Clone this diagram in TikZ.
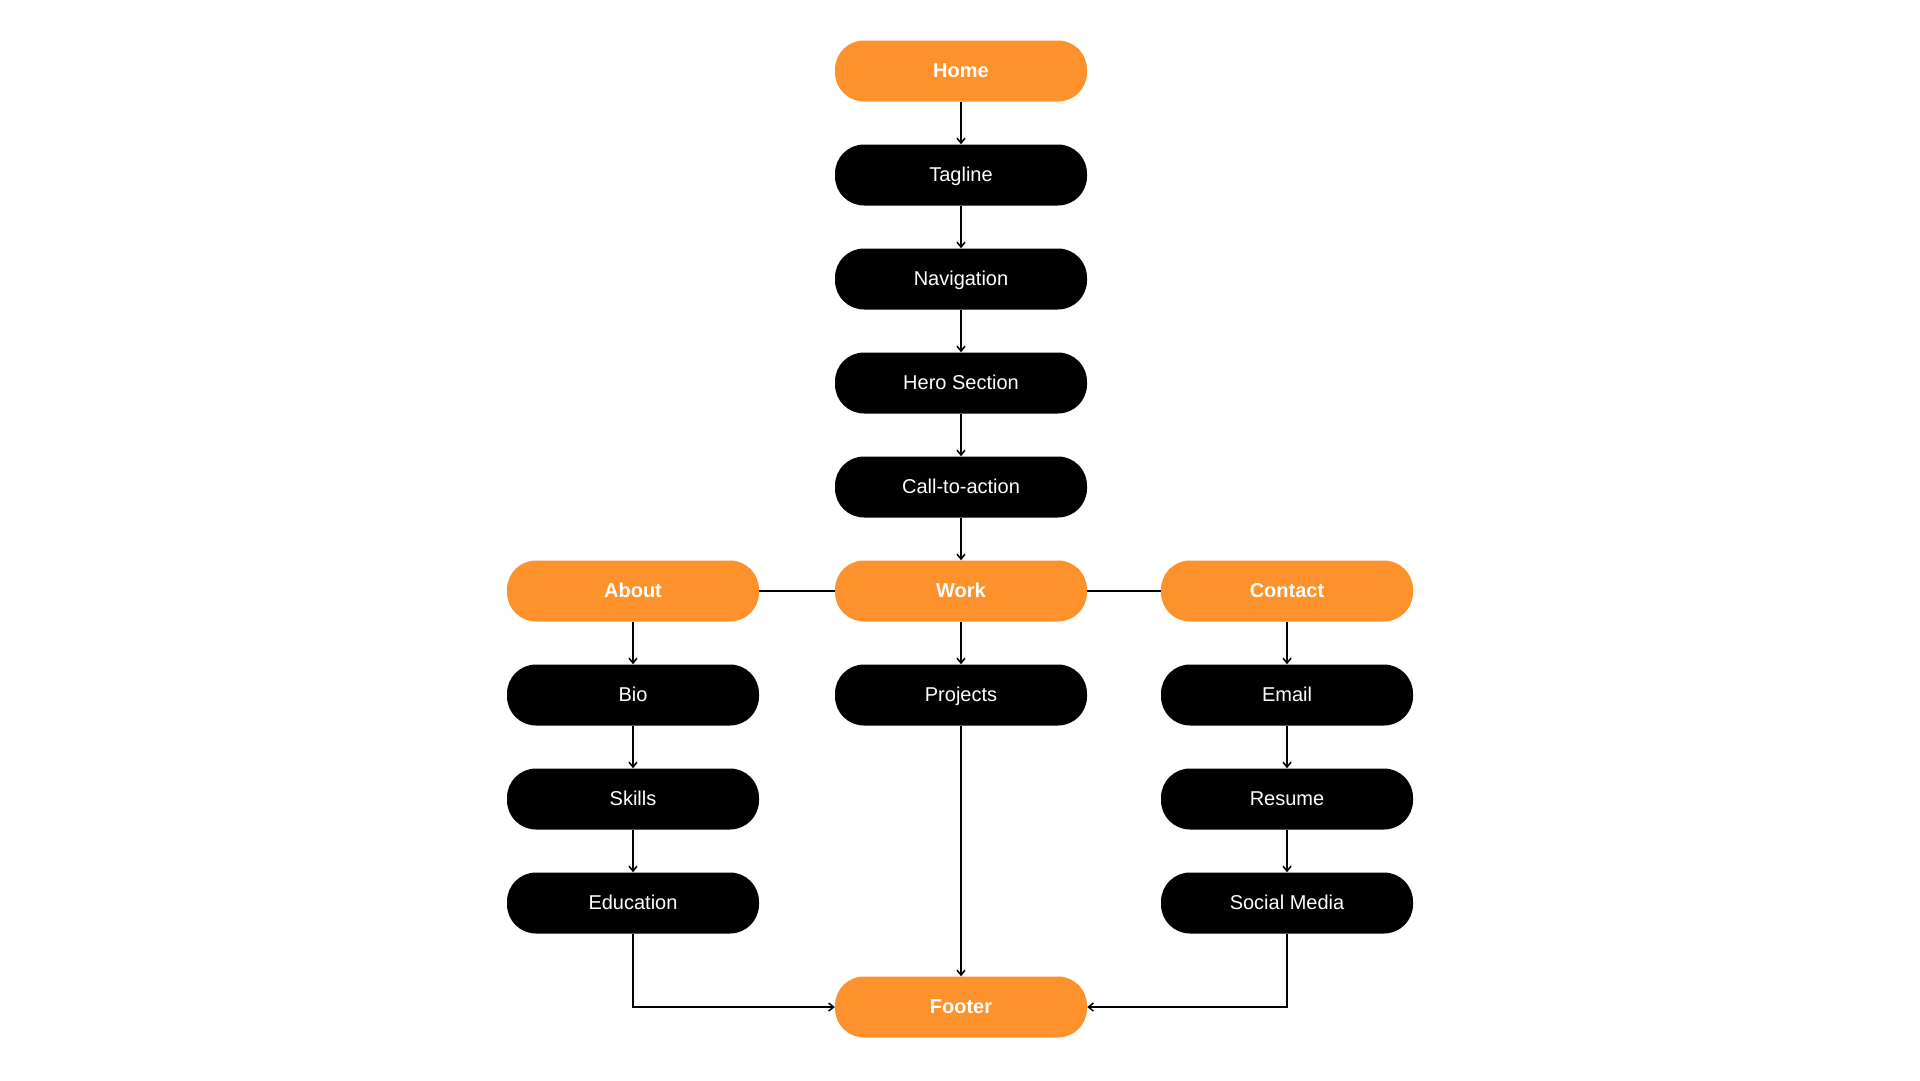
\documentclass[tikz,border=0pt]{standalone}
\usepackage{fontspec}
\setmainfont{Liberation Sans}
\usetikzlibrary{arrows.meta}
\definecolor{orng}{RGB}{253,145,43}
\tikzset{
  box/.style={minimum width=252pt, minimum height=61pt, rounded corners=29pt, inner sep=0pt, text height=14pt, text depth=2pt, font=\fontsize{20}{22}\selectfont},
  obox/.style={box, fill=orng, text=white, font=\fontsize{20}{22}\selectfont\bfseries},
  bbox/.style={box, fill=black, text=white},
  conn/.style={line width=1.8pt, draw=black},
  arr/.style={conn, -{Straight Barb[length=5pt,width=8pt,line width=1.5pt]}}
}
\begin{document}
\begin{tikzpicture}[x=1pt,y=-1pt]
\useasboundingbox (0,0) rectangle (1920,1080);
\node[obox] (home) at (961,71) {Home};
\node[bbox] (tag) at (961,175) {Tagline};
\node[bbox] (nav) at (961,279) {Navigation};
\node[bbox] (hero) at (961,383) {Hero Section};
\node[bbox] (cta) at (961,487) {Call-to-action};
\node[obox] (about) at (633,591) {About};
\node[obox] (work) at (961,591) {Work};
\node[obox] (contact) at (1287,591) {Contact};
\node[bbox] (bio) at (633,695) {Bio};
\node[bbox] (proj) at (961,695) {Projects};
\node[bbox] (email) at (1287,695) {Email};
\node[bbox] (skills) at (633,799) {Skills};
\node[bbox] (resume) at (1287,799) {Resume};
\node[bbox] (edu) at (633,903) {Education};
\node[bbox] (social) at (1287,903) {Social Media};
\node[obox] (footer) at (961,1007) {Footer};
\draw[arr] (home) -- (tag);
\draw[arr] (tag) -- (nav);
\draw[arr] (nav) -- (hero);
\draw[arr] (hero) -- (cta);
\draw[arr] (cta) -- (work);
\draw[conn] (about) -- (work);
\draw[conn] (work) -- (contact);
\draw[arr] (about) -- (bio);
\draw[arr] (bio) -- (skills);
\draw[arr] (skills) -- (edu);
\draw[arr] (work) -- (proj);
\draw[arr] (proj) -- (footer);
\draw[arr] (contact) -- (email);
\draw[arr] (email) -- (resume);
\draw[arr] (resume) -- (social);
\draw[arr] (edu.south) |- (footer.west);
\draw[arr] (social.south) |- (footer.east);
\end{tikzpicture}
\end{document}
